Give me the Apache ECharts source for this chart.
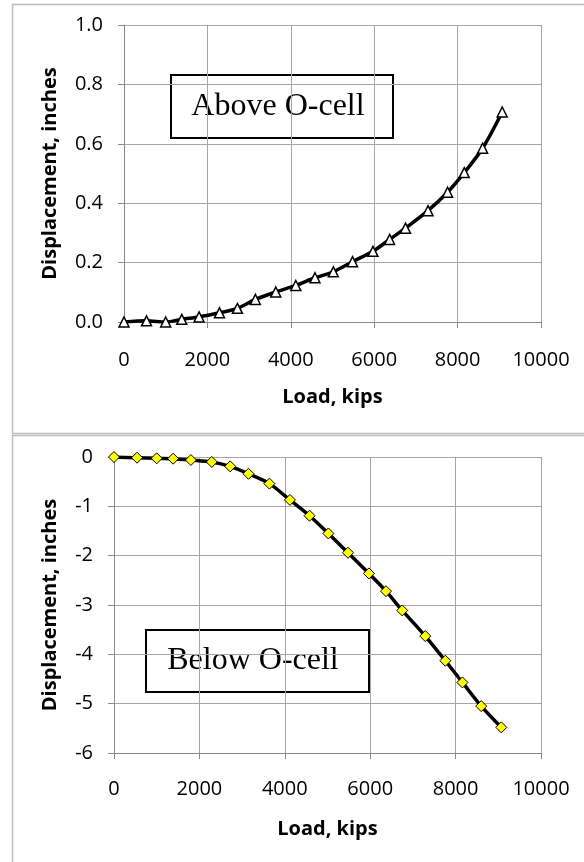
<!DOCTYPE html>
<html>
<head>
<meta charset="utf-8">
<script src="https://cdn.jsdelivr.net/npm/echarts@6/dist/echarts.min.js"></script>
<style>html,body{margin:0;padding:0;background:#fff}#c{width:584px;height:862px}</style>
</head>
<body>
<div id="c"></div>
<script>
// Load, kips (shared by both tests)
const loads = [0, 540, 1000, 1385, 1800, 2290, 2720, 3150, 3640, 4120, 4580, 5020, 5480, 5970, 6370, 6750, 7290, 7760, 8160, 8600, 9070];
// Displacement above O-cell, inches
const aboveDisp = [0, 0.004, 0.0, 0.009, 0.017, 0.031, 0.046, 0.076, 0.101, 0.123, 0.149, 0.169, 0.203, 0.238, 0.278, 0.316, 0.375, 0.437, 0.503, 0.585, 0.707];
// Displacement below O-cell, inches
const belowDisp = [0, -0.014, -0.027, -0.034, -0.061, -0.10, -0.19, -0.34, -0.54, -0.87, -1.19, -1.55, -1.94, -2.36, -2.72, -3.11, -3.63, -4.13, -4.57, -5.05, -5.48];
const xTicks = [0, 2000, 4000, 6000, 8000, 10000];
const aboveTicks = [0.0, 0.2, 0.4, 0.6, 0.8, 1.0];
const belowTicks = [-6, -5, -4, -3, -2, -1, 0];
const xTitle = 'Load, kips';
const yTitle = 'Displacement, inches';
const aboveLabel = 'Above O-cell';
const belowLabel = 'Below O-cell';

const font = 'Open Sans';
const gridColor = '#a6a6a6';
const pairs = (xs, ys) => xs.map((x, i) => [x, ys[i]]);

function xAxis(gridIndex, nameGap, margin) {
  return {
    type: 'value', gridIndex, min: xTicks[0], max: xTicks[xTicks.length - 1],
    interval: xTicks[1] - xTicks[0],
    name: xTitle, nameLocation: 'middle', nameGap,
    nameTextStyle: { fontFamily: font, fontWeight: 'bold', fontSize: 20, color: '#000' },
    axisLine: { show: true, onZero: false, lineStyle: { color: '#888', width: 1 } },
    axisTick: { show: true, length: 6, lineStyle: { color: '#888' } },
    axisLabel: { fontFamily: font, fontSize: 20, color: '#000', margin, formatter: v => String(v) },
    splitLine: { show: true, lineStyle: { color: gridColor, width: 1 } }
  };
}
function yAxis(gridIndex, ticks, dec, nameGap) {
  return {
    type: 'value', gridIndex, min: ticks[0], max: ticks[ticks.length - 1],
    interval: ticks[1] - ticks[0],
    name: yTitle, nameLocation: 'middle', nameGap,
    nameTextStyle: { fontFamily: font, fontWeight: 'bold', fontSize: 20, color: '#000' },
    axisLine: { show: true, onZero: false, lineStyle: { color: '#888', width: 1 } },
    axisTick: { show: true, length: 6, lineStyle: { color: '#888' } },
    axisLabel: { fontFamily: font, fontSize: 20, color: '#000', margin: 21,
      formatter: v => v.toFixed(dec) },
    splitLine: { show: true, lineStyle: { color: gridColor, width: 1 } }
  };
}

const chart = echarts.init(document.getElementById('c'), null, { renderer: 'canvas' });
chart.setOption({
  animation: false,
  backgroundColor: '#fff',
  grid: [
    { left: 124, top: 25, width: 417, height: 297 },
    { left: 114, top: 457, width: 427, height: 296 }
  ],
  xAxis: [xAxis(0, 65, 28), xAxis(1, 66, 26)],
  yAxis: [yAxis(0, aboveTicks, 1, 64), yAxis(1, belowTicks, 0, 54)],
  series: [
    { type: 'line', xAxisIndex: 0, yAxisIndex: 0, data: pairs(loads, aboveDisp),
      smooth: 0.3, symbol: 'triangle', symbolSize: 10,
      lineStyle: { color: '#000', width: 3.5 },
      itemStyle: { color: '#fff', borderColor: '#000', borderWidth: 1.5 }, z: 3 },
    { type: 'line', xAxisIndex: 1, yAxisIndex: 1, data: pairs(loads, belowDisp),
      smooth: 0.3, symbol: 'diamond', symbolSize: 11,
      lineStyle: { color: '#000', width: 3.5 },
      itemStyle: { color: '#ffff00', borderColor: '#000', borderWidth: 1 }, z: 3 }
  ],
  graphic: [
    { type: 'rect', shape: { x: 12.5, y: 4.5, width: 600, height: 429 },
      style: { fill: null, stroke: '#bdbdbd', lineWidth: 1.5 }, silent: true, z: 0 },
    { type: 'rect', shape: { x: 12.5, y: 435.5, width: 600, height: 500 },
      style: { fill: null, stroke: '#bdbdbd', lineWidth: 1.5 }, silent: true, z: 0 },
    { type: 'group', left: 170, top: 74, z: 10, children: [
      { type: 'rect', shape: { x: 0, y: 0, width: 222, height: 63 },
        style: { fill: '#fff', stroke: '#000', lineWidth: 2 } },
      { type: 'text', x: 107, y: 32, style: { text: aboveLabel, font: '32px "Liberation Serif"',
        fill: '#000', align: 'center', verticalAlign: 'middle' } }
    ]},
    { type: 'group', left: 145, top: 629, z: 10, children: [
      { type: 'rect', shape: { x: 0, y: 0, width: 223, height: 62 },
        style: { fill: '#fff', stroke: '#000', lineWidth: 2 } },
      { type: 'text', x: 107, y: 31, style: { text: belowLabel, font: '32px "Liberation Serif"',
        fill: '#000', align: 'center', verticalAlign: 'middle' } }
    ]}
  ]
});
</script>
</body>
</html>
